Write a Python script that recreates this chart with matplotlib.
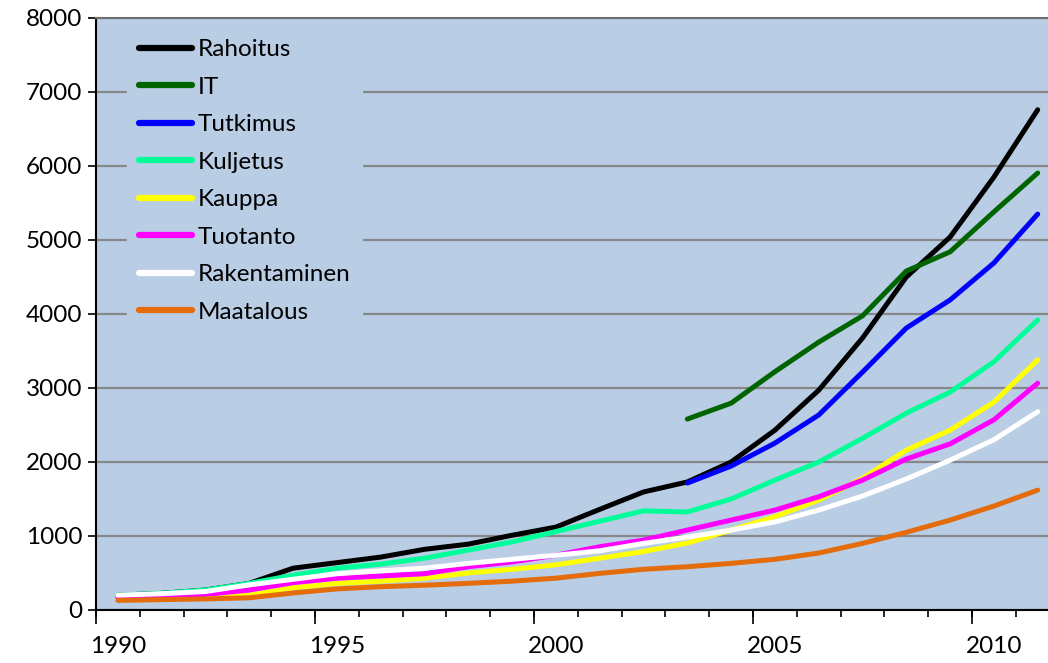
import numpy as np
import matplotlib.pyplot as plt
from matplotlib.ticker import FixedLocator, NullFormatter

years = list(range(1990, 2012))

rahoitus = [200, 225, 270, 360, 565, 640, 715, 820, 890, 1010, 1120, 1360, 1595, 1730,
            2000, 2430, 2970, 3675, 4500, 5040, 5850, 6760]
it = [None] * 13 + [2580, 2795, 3220, 3620, 3975, 4580, 4840, 5380, 5905]
tutkimus = [None] * 13 + [1715, 1945, 2255, 2635, 3215, 3810, 4190, 4690, 5350]
kuljetus = [200, 225, 270, 360, 470, 565, 620, 700, 810, 920, 1060, 1200, 1340, 1325,
            1500, 1755, 2000, 2320, 2660, 2945, 3355, 3920]
kauppa = [150, 160, 180, 200, 300, 360, 390, 430, 500, 550, 610, 700, 790, 905,
          1080, 1260, 1485, 1780, 2160, 2430, 2810, 3380]
tuotanto = [170, 180, 210, 270, 370, 430, 460, 490, 585, 650, 740, 855, 945, 1080,
            1215, 1350, 1530, 1755, 2040, 2245, 2570, 3065]
rakentaminen = [200, 220, 250, 340, 415, 490, 530, 565, 630, 685, 740, 800, 900, 985,
                1080, 1190, 1350, 1540, 1770, 2025, 2300, 2680]
maatalous = [130, 140, 150, 165, 230, 285, 315, 335, 360, 390, 430, 495, 550, 585,
             630, 685, 770, 900, 1050, 1215, 1405, 1620]

series = [("Rahoitus", rahoitus, "#000000"),
          ("IT", it, "#006400"),
          ("Tutkimus", tutkimus, "#0000FF"),
          ("Kuljetus", kuljetus, "#00FF99"),
          ("Kauppa", kauppa, "#FFFF00"),
          ("Tuotanto", tuotanto, "#FF00FF"),
          ("Rakentaminen", rakentaminen, "#FFFFFF"),
          ("Maatalous", maatalous, "#E46C0A")]

y_ticks = list(range(0, 8001, 1000))
x_labels = [1990, 1995, 2000, 2005, 2010]

plt.rcParams['font.family'] = ['Lato', 'DejaVu Sans']
fs = 17.5
bg = "#B9CDE5"

fig = plt.figure(figsize=(10.48, 6.63), dpi=100)
W, H = 1048, 663
ax = fig.add_axes([96 / W, 53 / H, 963.6 / W, 592 / H])
ax.set_facecolor(bg)

for name, vals, col in series:
    v = np.array([np.nan if a is None else a for a in vals], dtype=float)
    ax.plot(years, v, color=col, lw=3.6, label=name, solid_capstyle='round',
            solid_joinstyle='round')

ax.set_xlim(1989.5, 2011.5)
ax.set_ylim(0, 8000)
ax.set_yticks(y_ticks)
ax.yaxis.grid(True, color="#878787", lw=1.6)
ax.set_axisbelow(True)
ax.tick_params(axis='y', direction='out', length=6, width=1.2, pad=4, labelsize=fs)

# year labels sit on the categories, tick marks between them
ax.set_xticks(x_labels)
ax.xaxis.set_minor_locator(FixedLocator(np.arange(1989.5, 2012, 1.0)))
ax.xaxis.set_minor_formatter(NullFormatter())
ax.tick_params(axis='x', which='major', length=0, pad=19, labelsize=fs)
ax.tick_params(axis='x', which='minor', direction='out', length=5, width=1.2)

sec = ax.secondary_xaxis('bottom')
sec.set_xticks(np.arange(1989.5, 2012, 5.0))
sec.tick_params(axis='x', direction='out', length=10, width=1.2, labelbottom=False)
sec.spines['bottom'].set_visible(False)

for s in ['left', 'bottom']:
    ax.spines[s].set_color('black')
    ax.spines[s].set_linewidth(1.5)
ax.spines['top'].set_color('#6f6f6f')
ax.spines['top'].set_linewidth(1.5)
ax.spines['right'].set_visible(False)

leg = ax.legend(loc='upper left', bbox_to_anchor=(0.032, 0.985), fontsize=fs,
                frameon=True, facecolor=bg, edgecolor=bg, framealpha=1.0,
                fancybox=False, borderpad=0.5, borderaxespad=0,
                handlelength=2.2, handletextpad=0.2, labelspacing=0.68)
for line in leg.get_lines():
    line.set_linewidth(4.5)

fig.savefig("out.png", dpi=100)
plt.close()
